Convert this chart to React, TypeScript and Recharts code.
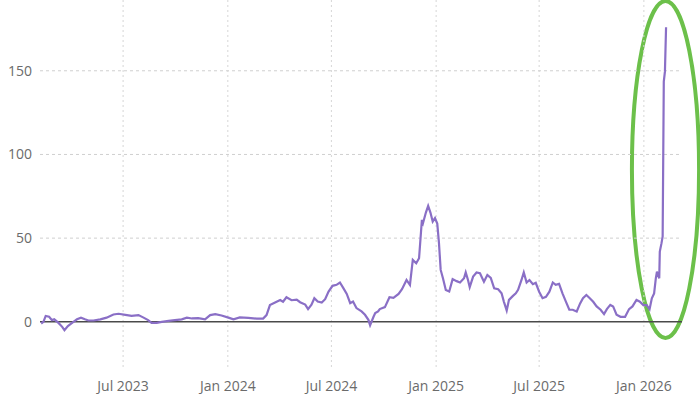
import { LineChart, Line, XAxis, YAxis, ReferenceLine, ReferenceArea } from 'recharts';

const dates = [
  '2023-02-07', '2023-02-11', '2023-02-15', '2023-02-21', '2023-02-26', '2023-03-02', '2023-03-09', '2023-03-16',
  '2023-03-20', '2023-03-26', '2023-04-03', '2023-04-11', '2023-04-18', '2023-04-25', '2023-05-01', '2023-05-10',
  '2023-05-22', '2023-06-02', '2023-06-14', '2023-06-23', '2023-07-05', '2023-07-16', '2023-07-28', '2023-08-06',
  '2023-08-14', '2023-08-20', '2023-08-29', '2023-09-07', '2023-09-19', '2023-09-30', '2023-10-12', '2023-10-21',
  '2023-10-30', '2023-11-10', '2023-11-22', '2023-12-01', '2023-12-10', '2023-12-21', '2024-01-02', '2024-01-11',
  '2024-01-22', '2024-02-06', '2024-02-21', '2024-03-03', '2024-03-09', '2024-03-15', '2024-03-24', '2024-04-02',
  '2024-04-07', '2024-04-13', '2024-04-22', '2024-05-01', '2024-05-07', '2024-05-16', '2024-05-21', '2024-05-27',
  '2024-06-01', '2024-06-07', '2024-06-14', '2024-06-20', '2024-06-26', '2024-07-03', '2024-07-10', '2024-07-16',
  '2024-07-22', '2024-07-28', '2024-08-03', '2024-08-08', '2024-08-14', '2024-08-23', '2024-08-29', '2024-09-04',
  '2024-09-07', '2024-09-13', '2024-09-16', '2024-09-21', '2024-09-24', '2024-10-03', '2024-10-11', '2024-10-18',
  '2024-10-27', '2024-11-02', '2024-11-10', '2024-11-16', '2024-11-21', '2024-11-27', '2024-12-02', '2024-12-07',
  '2024-12-09', '2024-12-14', '2024-12-18', '2024-12-22', '2024-12-26', '2024-12-30', '2025-01-03', '2025-01-06',
  '2025-01-09', '2025-01-13', '2025-01-18', '2025-01-24', '2025-01-30', '2025-02-06', '2025-02-12', '2025-02-19',
  '2025-02-22', '2025-02-26', '2025-03-01', '2025-03-07', '2025-03-13', '2025-03-19', '2025-03-26', '2025-04-01',
  '2025-04-07', '2025-04-13', '2025-04-20', '2025-04-26', '2025-04-30', '2025-05-05', '2025-05-09', '2025-05-16',
  '2025-05-21', '2025-05-25', '2025-05-31', '2025-06-04', '2025-06-09', '2025-06-14', '2025-06-20', '2025-06-25',
  '2025-07-01', '2025-07-07', '2025-07-13', '2025-07-19', '2025-07-25', '2025-07-30', '2025-08-05', '2025-08-11',
  '2025-08-17', '2025-08-23', '2025-08-29', '2025-09-05', '2025-09-11', '2025-09-16', '2025-09-22', '2025-09-28',
  '2025-10-04', '2025-10-10', '2025-10-17', '2025-10-23', '2025-10-28', '2025-11-03', '2025-11-08', '2025-11-14',
  '2025-11-21', '2025-11-29', '2025-12-06', '2025-12-12', '2025-12-19', '2025-12-25', '2025-12-31', '2026-01-06',
  '2026-01-11', '2026-01-15', '2026-01-19', '2026-01-22', '2026-01-24', '2026-01-28', '2026-01-29', '2026-02-01',
  '2026-02-03', '2026-02-05', '2026-02-07', '2026-02-09',
];

const values = [
  -1, 0, 3.5, 3, 1, 1.5, -0.5, -3,
  -5, -2.5, -0.5, 1.5, 2.5, 1.5, 0.8, 0.8,
  1.5, 2.5, 4.4, 4.8, 4.2, 3.6, 4, 2.5,
  1, -0.6, -0.6, 0, 0.6, 1, 1.5, 2.5,
  2, 2.2, 1.5, 4, 4.6, 3.8, 2.5, 1.5,
  2.6, 2.3, 1.9, 1.9, 4, 10, 11.5, 13,
  12, 14.7, 12.9, 13.3, 11.7, 10.3, 7.6, 10.3,
  14.1, 12.1, 11.5, 13.5, 18.1, 21.5, 22.1, 23.5,
  20.1, 16.7, 11.1, 12.1, 8.2, 6.2, 4.2, 1.2,
  -2, 3, 5.2, 6.2, 7.6, 8.8, 14.7, 14.3,
  16.7, 19.5, 25, 22, 37, 35, 38, 61,
  59, 65.3, 69.3, 65.3, 59.9, 62, 58.7, 47,
  31, 26, 19, 18.1, 25.5, 24.3, 23.5, 26,
  29.5, 25, 20.7, 27, 29.5, 29, 24, 28,
  26.3, 20, 19.5, 17.1, 12.1, 6.8, 13.1, 15.5,
  17, 19.1, 25, 29.5, 23.5, 25, 22.5, 23.3,
  18, 14.1, 14.9, 18, 23.5, 22.1, 22.7, 17,
  12.1, 7.2, 7.2, 6.2, 11, 14.1, 16, 14.1,
  12, 9.2, 7.2, 4.6, 7.6, 10.1, 9.2, 4.2,
  3, 3, 7.6, 9.2, 13.1, 12, 10, 10,
  7.5, 14, 17, 26, 30, 26, 42, 47,
  51, 143.5, 149.5, 176,
];

const tickDates = ['2023-07-01', '2024-01-01', '2024-07-01', '2025-01-01', '2025-07-01', '2026-01-01'];
const tickLabels = ['Jul 2023', 'Jan 2024', 'Jul 2024', 'Jan 2025', 'Jul 2025', 'Jan 2026'];
const yTicks = [0, 50, 100, 150];

const xRange = ['2023-02-05', '2026-03-09'];
const yRange = [-27, 192.3];

// the hand-drawn circle around the final spike
const highlightX = ['2025-12-11', '2026-04-08'];
const highlightY = [-9.6, 191.7];

const toTime = (s: string) => {
  const [y, m, d] = s.split('-').map(Number);
  return Date.UTC(y, m - 1, d);
};

const data = dates.map((d, i) => ({ t: toTime(d), v: values[i] }));
const ticks = tickDates.map(toTime);
const labelFor = (t: number) => tickLabels[ticks.indexOf(t)] ?? '';

const font = { fontSize: 14, fill: '#6b6b6b', fontFamily: '"Open Sans", sans-serif' };

const Ellipse = (props: any) => {
  const { x, y, width, height } = props;
  return (
    <ellipse
      cx={x + width / 2}
      cy={y + height / 2}
      rx={Math.abs(width) / 2}
      ry={Math.abs(height) / 2}
      fill="none"
      stroke="#6cc04a"
      strokeWidth={4}
    />
  );
};

export default function App() {
  return (
    <div style={{ position: 'absolute', left: 0, top: 0, width: 700, height: 394, background: '#fff' }}>
      <LineChart width={700} height={394} data={data} margin={{ top: 0, right: 18, bottom: 0, left: 0 }}>
        <XAxis
          dataKey="t"
          type="number"
          domain={xRange.map(toTime)}
          ticks={ticks}
          tickFormatter={labelFor}
          tick={font}
          tickLine={false}
          axisLine={false}
          tickMargin={8}
          height={27}
          allowDataOverflow
        />
        <YAxis
          domain={yRange}
          ticks={yTicks}
          tick={font}
          tickLine={false}
          axisLine={false}
          width={40}
          allowDataOverflow
        />
        {yTicks.filter((v) => v !== 0).map((v) => (
          <ReferenceLine key={`h${v}`} y={v} stroke="#cfcfcf" strokeDasharray="3 3" />
        ))}
        {ticks.map((t) => (
          <ReferenceLine key={`v${t}`} x={t} stroke="#d6d6d6" strokeDasharray="2 3" />
        ))}
        <ReferenceLine y={0} stroke="#4a4a4a" strokeWidth={1.5} />
        <Line
          type="linear"
          dataKey="v"
          stroke="#8a6fc6"
          strokeWidth={2.2}
          dot={false}
          isAnimationActive={false}
        />
        <ReferenceArea
          x1={toTime(highlightX[0])}
          x2={toTime(highlightX[1])}
          y1={highlightY[0]}
          y2={highlightY[1]}
          ifOverflow="visible"
          shape={Ellipse}
        />
      </LineChart>
    </div>
  );
}
